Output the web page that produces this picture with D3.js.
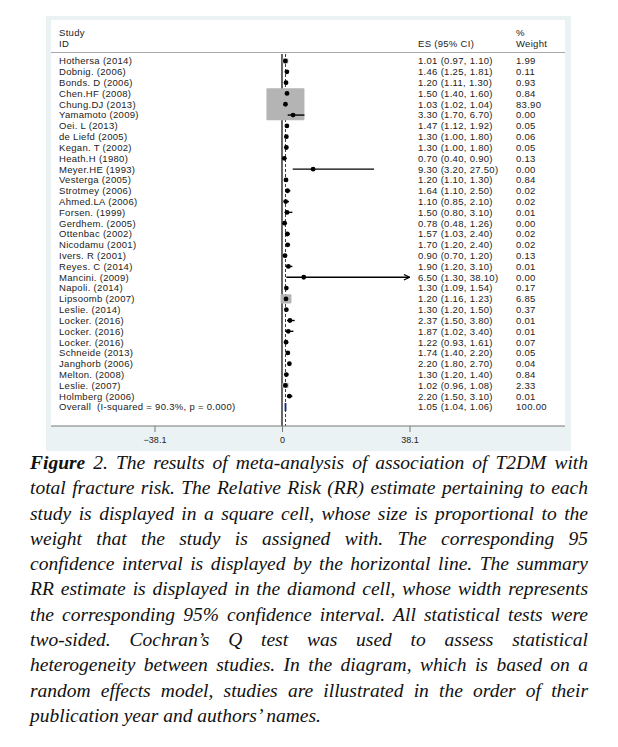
<!DOCTYPE html>
<html>
<head>
<meta charset="utf-8">
<script src="https://cdn.jsdelivr.net/npm/d3@7"></script>
<style>
  body { margin: 0; background: #fff; }
  #wrap { position: relative; width: 618px; height: 747px; }
  svg { position: absolute; left: 0; top: 0; }
  #caption {
    position: absolute; left: 30px; top: 450px; width: 558px;
    font-family: "Liberation Serif", "Times New Roman", serif;
    font-style: italic; font-size: 19.5px; line-height: 25.3px; color: #111;
  }
  #caption div { text-align: justify; text-align-last: justify; white-space: nowrap; }
  #caption div.last { text-align-last: left; }
</style>
</head>
<body>
<div id="wrap"></div>
<script>
// study data
const studies = ["Hothersa (2014)", "Dobnig. (2006)", "Bonds. D (2006)", "Chen.HF (2008)", "Chung.DJ (2013)",
  "Yamamoto (2009)", "Oei. L (2013)", "de Liefd (2005)", "Kegan. T (2002)", "Heath.H (1980)",
  "Meyer.HE (1993)", "Vesterga (2005)", "Strotmey (2006)", "Ahmed.LA (2006)", "Forsen. (1999)",
  "Gerdhem. (2005)", "Ottenbac (2002)", "Nicodamu (2001)", "Ivers. R (2001)", "Reyes. C (2014)",
  "Mancini. (2009)", "Napoli. (2014)", "Lipsoomb (2007)", "Leslie. (2014)", "Locker. (2016)",
  "Locker. (2016)", "Locker. (2016)", "Schneide (2013)", "Janghorb (2006)", "Melton. (2008)",
  "Leslie. (2007)", "Holmberg (2006)"];
const es = [1.01, 1.46, 1.20, 1.50, 1.03, 3.30, 1.47, 1.30, 1.30, 0.70, 9.30, 1.20, 1.64, 1.10, 1.50,
  0.78, 1.57, 1.70, 0.90, 1.90, 6.50, 1.30, 1.20, 1.30, 2.37, 1.87, 1.22, 1.74, 2.20, 1.30, 1.02, 2.20];
const lo = [0.97, 1.25, 1.11, 1.40, 1.02, 1.70, 1.12, 1.00, 1.00, 0.40, 3.20, 1.10, 1.10, 0.85, 0.80,
  0.48, 1.03, 1.20, 0.70, 1.20, 1.30, 1.09, 1.16, 1.20, 1.50, 1.02, 0.93, 1.40, 1.80, 1.20, 0.96, 1.50];
const hi = [1.10, 1.81, 1.30, 1.60, 1.04, 6.70, 1.92, 1.80, 1.80, 0.90, 27.50, 1.30, 2.50, 2.10, 3.10,
  1.26, 2.40, 2.40, 1.20, 3.10, 38.10, 1.54, 1.23, 1.50, 3.80, 3.40, 1.61, 2.20, 2.70, 1.40, 1.08, 3.10];
const weights = [1.99, 0.11, 0.93, 0.84, 83.90, 0.00, 0.05, 0.06, 0.05, 0.13, 0.00, 0.84, 0.02, 0.02, 0.01,
  0.00, 0.02, 0.02, 0.13, 0.01, 0.00, 0.17, 6.85, 0.37, 0.01, 0.01, 0.07, 0.05, 0.04, 0.84, 2.33, 0.01];
const overallLabel = "Overall  (I-squared = 90.3%, p = 0.000)";
const overall = [1.05, 1.04, 1.06, 100.00];
const xTicks = [-38.1, 0, 38.1];

const captionLines = [
  "The results of meta-analysis of association of T2DM with",
  "total fracture risk. The Relative Risk (RR) estimate pertaining to each",
  "study is displayed in a square cell, whose size is proportional to the",
  "weight that the study is assigned with. The corresponding 95",
  "confidence interval is displayed by the horizontal line. The summary",
  "RR estimate is displayed in the diamond cell, whose width represents",
  "the corresponding 95% confidence interval. All statistical tests were",
  "two-sided. Cochran\u2019s Q test was used to assess statistical",
  "heterogeneity between studies. In the diagram, which is based on a",
  "random effects model, studies are illustrated in the order of their",
  "publication year and authors\u2019 names."
];

const w = 618, h = 455;
const f2 = d3.format(".2f");

const svg = d3.select("#wrap").append("svg")
  .attr("width", w)
  .attr("height", h)
  .style("font-family", "'Liberation Sans', Arial, sans-serif");

// graph region + plot region
svg.append("rect")
  .attr("x", 46).attr("y", 16).attr("width", 525).attr("height", 435)
  .attr("fill", "#eaf2f3");
svg.append("rect")
  .attr("x", 51).attr("y", 20).attr("width", 514).attr("height", 406)
  .attr("fill", "#fff");

const xScale = d3.scaleLinear()
  .domain([-38.1, 38.1])
  .range([154.5, 409.5]);

const yScale = d3.scalePoint()
  .domain(d3.range(studies.length + 1))
  .range([61, 407]);

const boxSize = d3.scaleSqrt()
  .domain([0, d3.max(weights)])
  .range([0, 38]);

const axisY = 426;

// header
const header = svg.append("g").attr("font-size", "9.5px").attr("letter-spacing", "0.3px").attr("fill", "#222");
header.append("text").attr("x", 59).attr("y", 36).text("Study");
header.append("text").attr("x", 59).attr("y", 47).text("ID");
header.append("text").attr("x", 418).attr("y", 47).text("ES (95% CI)");
header.append("text").attr("x", 516).attr("y", 36).text("%");
header.append("text").attr("x", 516).attr("y", 47).text("Weight");
svg.append("line")
  .attr("x1", 51).attr("x2", 565).attr("y1", 52.5).attr("y2", 52.5)
  .attr("stroke", "#aaa").attr("stroke-width", 1);

// reference lines
svg.append("line")
  .attr("x1", xScale(0)).attr("x2", xScale(0))
  .attr("y1", 54).attr("y2", axisY)
  .attr("stroke", "#000").attr("stroke-width", 1.2);
svg.append("line")
  .attr("x1", xScale(overall[0])).attr("x2", xScale(overall[0]))
  .attr("y1", 54).attr("y2", axisY)
  .attr("stroke", "#8b1c1c").attr("stroke-width", 1)
  .attr("stroke-dasharray", "3,2");

// arrowhead for truncated CIs
svg.append("defs").append("marker")
  .attr("id", "arrow")
  .attr("viewBox", "0 0 10 10")
  .attr("refX", 9).attr("refY", 5)
  .attr("markerWidth", 7).attr("markerHeight", 7)
  .attr("markerUnits", "userSpaceOnUse")
  .attr("orient", "auto")
  .append("path")
  .attr("d", "M1,1 L9,5 L1,9")
  .attr("fill", "none").attr("stroke", "#000").attr("stroke-width", 1.6);

const rows = studies.map((s, i) => ({ i, s, es: es[i], lo: lo[i], hi: hi[i], wt: weights[i] }));

// weight boxes
svg.append("g").selectAll("rect")
  .data(rows.filter(d => d.wt > 0))
  .enter()
  .append("rect")
    .attr("x", d => xScale(d.es) - boxSize(d.wt) / 2)
    .attr("y", d => yScale(d.i) - boxSize(d.wt) * 0.42)
    .attr("width", d => boxSize(d.wt))
    .attr("height", d => boxSize(d.wt) * 0.84)
    .attr("rx", 1)
    .attr("fill", "#b4b4b4");

// confidence intervals
svg.append("g").selectAll("line")
  .data(rows)
  .enter()
  .append("line")
    .attr("x1", d => xScale(d.lo))
    .attr("x2", d => xScale(Math.min(d.hi, 38.1)))
    .attr("y1", d => yScale(d.i))
    .attr("y2", d => yScale(d.i))
    .attr("stroke", "#000")
    .attr("stroke-width", 1.4)
    .attr("marker-end", d => d.hi >= 38.1 ? "url(#arrow)" : null);

// point estimates
svg.append("g").selectAll("circle")
  .data(rows)
  .enter()
  .append("circle")
    .attr("cx", d => xScale(d.es))
    .attr("cy", d => yScale(d.i))
    .attr("r", 2.4)
    .attr("fill", "#000");

// overall diamond
const oy = yScale(studies.length);
svg.append("path")
  .attr("d", `M${xScale(overall[1])},${oy} L${xScale(overall[0])},${oy - 4} L${xScale(overall[2])},${oy} L${xScale(overall[0])},${oy + 4} Z`)
  .attr("fill", "#1a237e")
  .attr("stroke", "#1a237e")
  .attr("stroke-width", 1.8);

// row text
const txt = svg.append("g").attr("font-size", "9.5px").attr("letter-spacing", "0.3px").attr("fill", "#222");
txt.selectAll("text.name")
  .data(rows)
  .enter()
  .append("text")
    .attr("x", 59)
    .attr("y", d => yScale(d.i) + 3.4)
    .text(d => d.s);
txt.selectAll("text.es")
  .data(rows)
  .enter()
  .append("text")
    .attr("x", 418)
    .attr("y", d => yScale(d.i) + 3.4)
    .text(d => `${f2(d.es)} (${f2(d.lo)}, ${f2(d.hi)})`);
txt.selectAll("text.wt")
  .data(rows)
  .enter()
  .append("text")
    .attr("x", 516)
    .attr("y", d => yScale(d.i) + 3.4)
    .text(d => f2(d.wt));
txt.append("text").attr("x", 59).attr("y", oy + 3.4).attr("xml:space", "preserve").text(overallLabel);
txt.append("text").attr("x", 418).attr("y", oy + 3.4)
  .text(`${f2(overall[0])} (${f2(overall[1])}, ${f2(overall[2])})`);
txt.append("text").attr("x", 516).attr("y", oy + 3.4).text(f2(overall[3]));

// x axis
svg.append("line")
  .attr("x1", 51).attr("x2", 565).attr("y1", axisY).attr("y2", axisY)
  .attr("stroke", "#777").attr("stroke-width", 1);
const xAxis = d3.axisBottom(xScale)
  .tickValues(xTicks)
  .tickFormat(d => d === 0 ? "0" : d3.format(".1f")(d))
  .tickSize(6)
  .tickPadding(5);
svg.append("g")
  .attr("id", "xaxis")
  .attr("transform", `translate(0, ${axisY})`)
  .call(xAxis)
  .call(g => g.select(".domain").remove())
  .call(g => g.selectAll(".tick line").attr("stroke", "#777"))
  .call(g => g.selectAll(".tick text")
    .attr("font-family", "'Liberation Sans', Arial, sans-serif")
    .attr("font-size", "9px").attr("fill", "#222"));

// caption
const cap = d3.select("#wrap").append("div").attr("id", "caption");
captionLines.forEach((line, i) => {
  const div = cap.append("div").classed("last", i === captionLines.length - 1);
  if (i === 0) {
    div.append("b").text("Figure");
    div.append("span").text(" 2. " + line);
  } else {
    div.text(line);
  }
});
</script>
</body>
</html>
